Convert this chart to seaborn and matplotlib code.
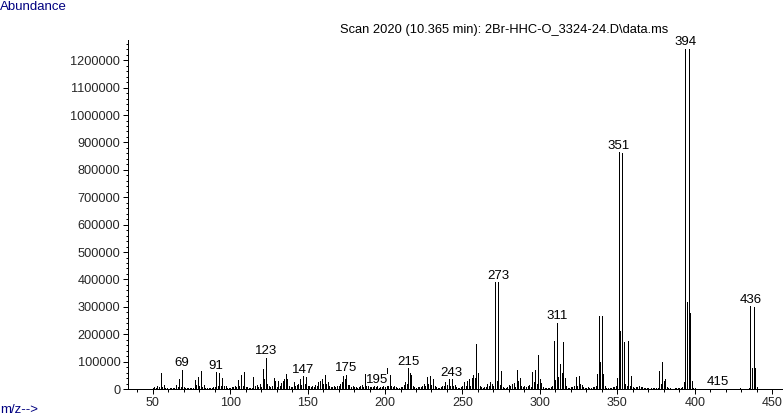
# Mass spectrum, scan 2020 - recreated with seaborn styling
import numpy as np
import matplotlib
matplotlib.use("Agg")
import matplotlib.pyplot as plt
import seaborn as sns
from matplotlib.ticker import MultipleLocator, FuncFormatter

# -------------------
# DATA (m/z 50..440, abundance)
# -------------------
mz = list(range(50, 441))
abundance = [
    3000, 8000, 4000, 12000, 6000, 60000, 8000, 14000, 3000, 2000,          # 50
    1500, 2000, 2000, 5000, 3000, 16000, 6000, 36000, 8000, 73000,          # 60
    6000, 5000, 3000, 4000, 3000, 5000, 4000, 34000, 14000, 42000,          # 70
    10000, 66000, 9000, 14000, 4000, 4000, 2000, 3000, 2000, 8000,          # 80
    6000, 63000, 12000, 57000, 10000, 41000, 10000, 12000, 3000, 4000,      # 90
    3000, 6000, 8000, 12000, 6000, 34000, 10000, 52000, 12000, 63000,       # 100
    8000, 6000, 3000, 3000, 4000, 45000, 10000, 16000, 6000, 20000,         # 110
    8000, 73000, 35000, 117000, 20000, 10000, 6000, 12000, 40000, 30000,    # 120
    8000, 30000, 10000, 22000, 30000, 38000, 55000, 35000, 10000, 8000,     # 130
    6000, 26000, 12000, 16000, 20000, 37000, 15000, 48000, 20000, 45000,    # 140
    10000, 12000, 8000, 10000, 6000, 14000, 10000, 26000, 30000, 35000,     # 150
    20000, 52000, 18000, 25000, 10000, 8000, 6000, 10000, 8000, 12000,      # 160
    10000, 20000, 25000, 46000, 38000, 55000, 15000, 14000, 8000, 10000,    # 170
    6000, 8000, 5000, 6000, 10000, 14000, 8000, 54000, 12000, 10000,        # 180
    8000, 8000, 6000, 10000, 6000, 12000, 5000, 8000, 6000, 10000,          # 190
    8000, 77000, 12000, 50000, 10000, 6000, 12000, 8000, 5000, 4000,        # 200
    6000, 8000, 14000, 25000, 20000, 79000, 60000, 50000, 12000, 8000,      # 210
    4000, 6000, 8000, 6000, 10000, 20000, 12000, 43000, 20000, 46000,       # 220
    15000, 35000, 10000, 6000, 5000, 4000, 6000, 10000, 12000, 25000,       # 230
    15000, 37000, 12000, 37000, 10000, 15000, 6000, 5000, 4000, 6000,       # 240
    10000, 25000, 12000, 30000, 35000, 12000, 40000, 50000, 40000, 163000,  # 250
    57000, 10000, 6000, 4000, 6000, 8000, 20000, 10000, 25000, 20000,       # 260
    12000, 392000, 30000, 392000, 15000, 65000, 8000, 5000, 4000, 6000,     # 270
    15000, 10000, 18000, 22000, 8000, 68000, 30000, 40000, 10000, 6000,     # 280
    10000, 8000, 12000, 15000, 8000, 62000, 25000, 68000, 20000, 124000,    # 290
    38000, 22000, 6000, 4000, 3000, 5000, 4000, 8000, 10000, 174000,        # 300
    34000, 244000, 45000, 93000, 60000, 173000, 40000, 10000, 5000, 4000,   # 310
    6000, 8000, 10000, 44000, 12000, 46000, 20000, 15000, 6000, 4000,       # 320
    5000, 6000, 4000, 5000, 8000, 6000, 12000, 55000, 268000, 100000,       # 330
    265000, 56000, 10000, 5000, 4000, 3000, 4000, 6000, 8000, 12000,        # 340
    40000, 866000, 213000, 860000, 173000, 20000, 10000, 177000, 12000, 47000,  # 350
    6000, 4000, 8000, 6000, 10000, 8000, 6000, 4000, 3000, 2000,            # 360
    2000, 1500, 2000, 3000, 3000, 4000, 5000, 65000, 20000, 100000,         # 370
    30000, 35000, 8000, 3000, 2000, 1500, 1500, 2000, 2000, 3000,           # 380
    3000, 4000, 6000, 27000, 1245000, 318000, 1240000, 276000, 30000, 4000,  # 390
    2000, 1000, 0, 0, 0, 0, 0, 0, 0, 0,                                     # 400
    0, 0, 0, 0, 0, 3000, 0, 0, 0, 0,                                        # 410
    0, 0, 0, 0, 0, 0, 0, 0, 0, 2000,                                        # 420
    0, 0, 0, 0, 0, 2000, 305000, 75000, 301000, 75000,                      # 430
    9000,                                                                   # 440
]
label_mz = [69, 91, 123, 147, 175, 195, 215, 243, 273, 311, 351, 394, 415, 436]

title = "Scan 2020 (10.365 min): 2Br-HHC-O_3324-24.D\\data.ms"

# -------------------
# STYLE
# -------------------
sns.set_style("ticks")
plt.rcParams["font.family"] = ["Liberation Sans", "DejaVu Sans"]
plt.rcParams["axes.linewidth"] = 0.72
navy = "#000080"

W, H = 783, 420
fig = plt.figure(figsize=(W / 100, H / 100), dpi=100)
ax = fig.add_axes([128 / W, 1 - 389 / H, (W - 128) / W, (389 - 40) / H])

df = {"mz": mz, "abundance": abundance}
ax.vlines(df["mz"], 0, df["abundance"], color="black", linewidth=0.72, antialiased=False)

# peak labels
lookup = dict(zip(mz, abundance))
for m in label_mz:
    ax.annotate(str(m), (m, lookup[m]), xytext=(0, 2), textcoords="offset points",
                ha="center", va="baseline", fontsize=9.5, color="black",
                bbox=dict(fc="white", ec="none", pad=0.3))

ax.set_xlim(34, 457)
ax.set_ylim(0, 1274000)
ax.xaxis.set_major_locator(MultipleLocator(50))
ax.xaxis.set_minor_locator(MultipleLocator(10))
ax.yaxis.set_major_locator(MultipleLocator(100000))
ax.yaxis.set_minor_locator(MultipleLocator(20000))
ax.yaxis.set_major_formatter(FuncFormatter(lambda v, p: f"{int(v)}"))
ax.tick_params(which="major", length=3.5, width=0.72, color="black", labelsize=9.2, pad=2)
ax.tick_params(which="minor", length=1.8, width=0.72, color="black")
sns.despine(ax=ax)
for s in ("left", "bottom"):
    ax.spines[s].set_color("black")
ax.set_xlabel("")
ax.set_ylabel("")
# keep the last x tick label inside the canvas
for lab in ax.get_xticklabels():
    lab.set_fontsize(9)

fig.text(0, 1 - 1 / H, "Abundance", color=navy, ha="left", va="top", fontsize=9.5)
fig.text(0, 1 - 410 / H, "m/z-->", color=navy, ha="left", va="center", fontsize=9.5)
fig.text(504 / W, 1 - 30 / H, title, ha="center", va="center", fontsize=9.3, color="black")

fig.savefig("out.png", dpi=100)
